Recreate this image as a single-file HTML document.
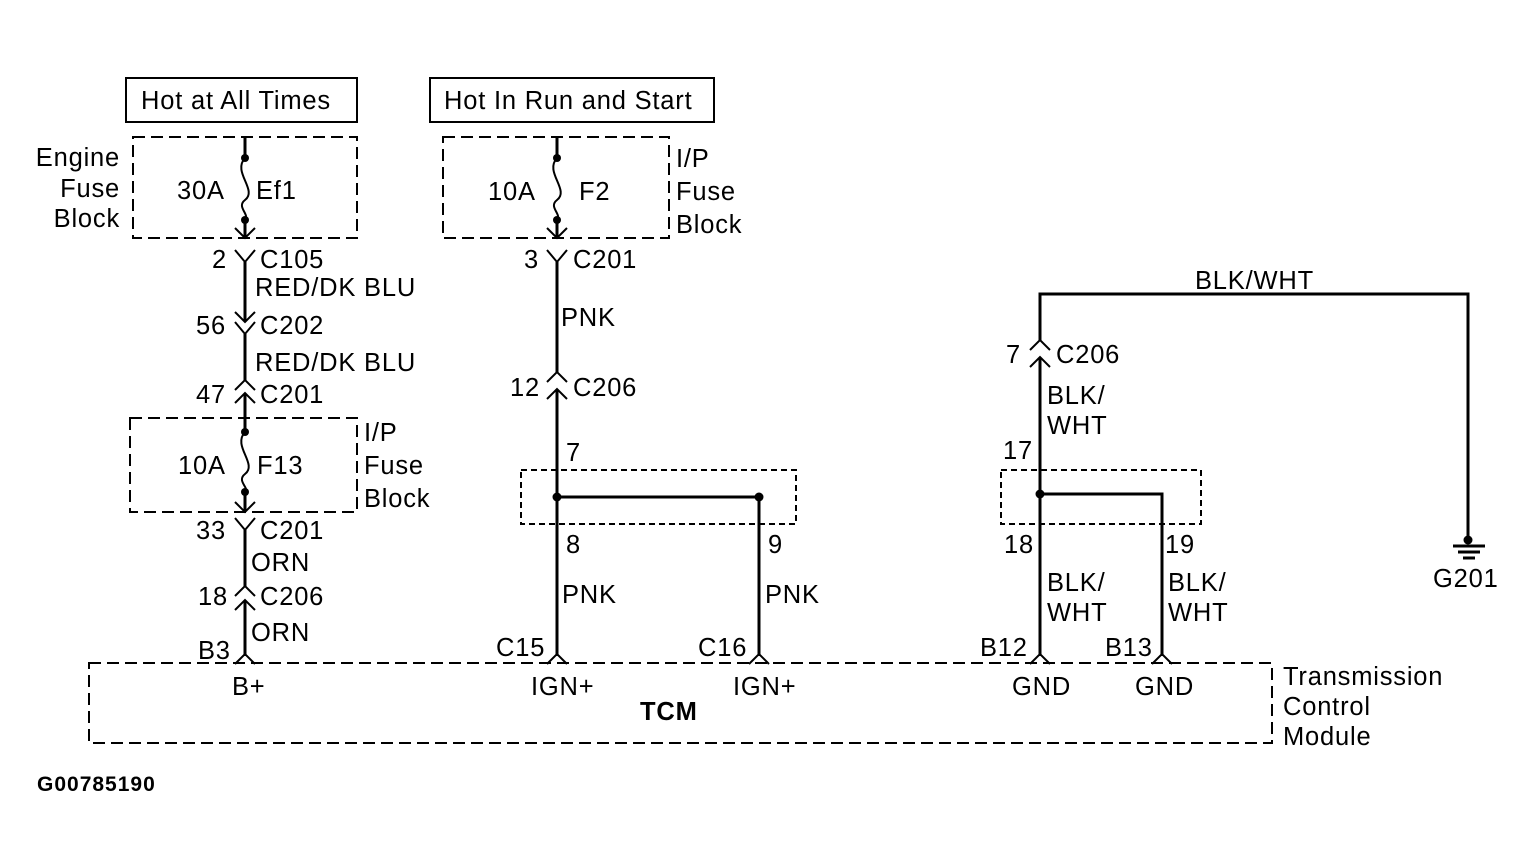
<!DOCTYPE html>
<html><head><meta charset="utf-8"><style>
html,body{margin:0;padding:0;background:#fff}
svg{display:block}
text{font-family:"Liberation Sans",Arial,sans-serif;font-size:25.5px;letter-spacing:0.8px;fill:#000}
</style></head><body>
<svg width="1531" height="867" viewBox="0 0 1531 867" xmlns="http://www.w3.org/2000/svg">
<g fill="none" stroke="#000" stroke-width="2">
<rect x="126" y="78" width="231" height="44"/>
<rect x="430" y="78" width="284" height="44"/>
</g>
<g fill="none" stroke="#000" stroke-width="2" stroke-dasharray="12,6">
<rect x="133" y="137" width="224" height="101"/>
<rect x="443" y="137" width="226" height="101"/>
<rect x="130" y="418" width="227" height="94"/>
<rect x="89" y="663" width="1183" height="80"/>
</g>
<g fill="none" stroke="#000" stroke-width="2" stroke-dasharray="6,4">
<rect x="521" y="470" width="275" height="54"/>
<rect x="1001" y="470" width="200" height="54"/>
</g>
<g fill="none" stroke="#000" stroke-width="3">
<path d="M245 137V158M245 220V238M245 262V322M245 334V380M245 393V432M245 492V512M245 530V586M245 600V656"/>
<path d="M245 158 C232 172,258 190,245 200 C236 207,250 214,245 220" stroke-width="2"/>
<path d="M245 432 C232 446,258 464,245 474 C236 481,250 488,245 492" stroke-width="2"/>
<path d="M557 137V158M557 220V238M557 262V372M557 389V656M557 497H759V656"/>
<path d="M557 158 C544 172,570 190,557 200 C548 207,562 214,557 220" stroke-width="2"/>
<path d="M1040 340V294H1468V540M1040 357V656M1040 494H1162V656"/>
<path d="M1453 546H1485M1458 552H1480M1463 558H1475"/>
</g>
<g fill="none" stroke="#000" stroke-width="2">
<path d="M235 228L245 238L255 228M235 250L245 262L255 250M235 312L245 322L255 312M235 322L245 334L255 322"/>
<path d="M547 228L557 238L567 228M547 250L557 262L567 250"/>
<path d="M235 502L245 512L255 502M235 518L245 530L255 518"/>
<path d="M235 390L245 380L255 390M235 403L245 393L255 403M235 596L245 586L255 596M235 610L245 600L255 610"/>
<path d="M547 382L557 372L567 382M547 399L557 389L567 399"/>
<path d="M1030 350L1040 340L1050 350M1030 367L1040 357L1050 367"/>
<path d="M235 664L245 654L255 664M547 664L557 654L567 664M749 664L759 654L769 664M1030 664L1040 654L1050 664M1152 664L1162 654L1172 664"/>
</g>
<g fill="#000">
<circle cx="245" cy="158" r="4"/><circle cx="245" cy="220" r="4"/>
<circle cx="557" cy="158" r="4"/><circle cx="557" cy="220" r="4"/>
<circle cx="245" cy="432" r="4"/><circle cx="245" cy="492" r="4"/>
<circle cx="557" cy="497" r="4.5"/><circle cx="759" cy="497" r="4.5"/>
<circle cx="1040" cy="494" r="4.5"/><circle cx="1468" cy="540" r="4.5"/>
</g>
<text x="141" y="109">Hot at All Times</text>
<text x="444" y="109">Hot In Run and Start</text>
<text x="120" y="166" text-anchor="end">Engine</text>
<text x="120" y="197" text-anchor="end">Fuse</text>
<text x="120" y="227" text-anchor="end">Block</text>
<text x="177" y="199">30A</text><text x="256" y="199">Ef1</text>
<text x="488" y="200">10A</text><text x="579" y="200">F2</text>
<text x="676" y="167">I/P</text><text x="676" y="200">Fuse</text><text x="676" y="233">Block</text>
<text x="212" y="268">2</text><text x="260" y="268">C105</text>
<text x="255" y="296">RED/DK BLU</text>
<text x="196" y="334">56</text><text x="260" y="334">C202</text>
<text x="255" y="371">RED/DK BLU</text>
<text x="196" y="403">47</text><text x="260" y="403">C201</text>
<text x="178" y="474">10A</text><text x="257" y="474">F13</text>
<text x="364" y="441">I/P</text><text x="364" y="474">Fuse</text><text x="364" y="507">Block</text>
<text x="196" y="539">33</text><text x="260" y="539">C201</text>
<text x="251" y="571">ORN</text>
<text x="198" y="605">18</text><text x="260" y="605">C206</text>
<text x="251" y="641">ORN</text>
<text x="198" y="659">B3</text>
<text x="232" y="695">B+</text>
<text x="524" y="268">3</text><text x="573" y="268">C201</text>
<text x="561" y="326">PNK</text>
<text x="510" y="396">12</text><text x="573" y="396">C206</text>
<text x="566" y="461">7</text>
<text x="566" y="553">8</text><text x="768" y="553">9</text>
<text x="562" y="603">PNK</text><text x="765" y="603">PNK</text>
<text x="496" y="656">C15</text><text x="698" y="656">C16</text>
<text x="531" y="695">IGN+</text><text x="733" y="695">IGN+</text>
<text x="640" y="720" font-weight="bold">TCM</text>
<text x="1195" y="289">BLK/WHT</text>
<text x="1006" y="363">7</text><text x="1056" y="363">C206</text>
<text x="1047" y="404">BLK/</text><text x="1047" y="434">WHT</text>
<text x="1003" y="459">17</text>
<text x="1004" y="553">18</text><text x="1165" y="553">19</text>
<text x="1047" y="591">BLK/</text><text x="1047" y="621">WHT</text>
<text x="1168" y="591">BLK/</text><text x="1168" y="621">WHT</text>
<text x="980" y="656">B12</text><text x="1105" y="656">B13</text>
<text x="1012" y="695">GND</text><text x="1135" y="695">GND</text>
<text x="1283" y="685">Transmission</text><text x="1283" y="715">Control</text><text x="1283" y="745">Module</text>
<text x="1433" y="587">G201</text>
<text x="37" y="791" style="font-size:21px;font-weight:bold;letter-spacing:1px">G00785190</text>
</svg>
</body></html>
